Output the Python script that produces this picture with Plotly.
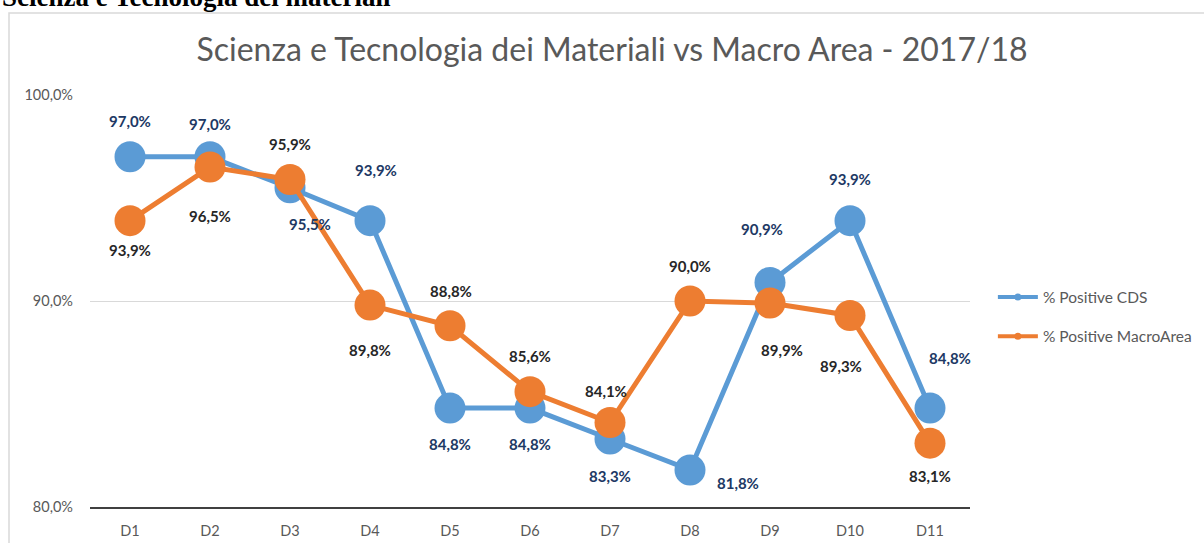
import plotly.graph_objects as go

# Category labels and series values (%)
categories = ["D1", "D2", "D3", "D4", "D5", "D6", "D7", "D8", "D9", "D10", "D11"]
cds_values = [97.0, 97.0, 95.5, 93.9, 84.8, 84.8, 83.3, 81.8, 90.9, 93.9, 84.8]
macro_values = [93.9, 96.5, 95.9, 89.8, 88.8, 85.6, 84.1, 90.0, 89.9, 89.3, 83.1]
series_names = ["% Positive CDS", "% Positive MacroArea"]
y_ticks = [80, 90, 100]

# Label placement (pixel offsets from each point)
cds_label_dy = [36, 33, -36, 51, -36, -36, -37, -13, 53, 42, 50]
cds_label_dx = [0, 0, 20, 6, 0, 0, 0, 48, -8, 0, 20]
macro_label_dy = [-29, -49, 35, -45, 35, 36, 32, 35, -47, -51, -33]
macro_label_dx = [0, 0, 0, 0, 1, 0, -4, 0, 12, -9, 0]

BLUE = "#5B9BD5"
ORANGE = "#ED7D31"
FONT = "Lato"


def pct(v):
    return f"{v:.1f}".replace(".", ",") + "%"


fig = go.Figure()

for name, vals, color in [(series_names[0], cds_values, BLUE),
                          (series_names[1], macro_values, ORANGE)]:
    fig.add_trace(go.Scatter(
        x=categories, y=vals, mode="lines+markers", name=name,
        line=dict(color=color, width=5),
        marker=dict(color=color, size=31),
        showlegend=False, hoverinfo="skip",
    ))

# Legend entries with small markers
for i, (name, color) in enumerate([(series_names[0], BLUE), (series_names[1], ORANGE)]):
    fig.add_trace(go.Scatter(
        x=[None], y=[None], mode="lines+markers", name=name,
        line=dict(color=color, width=4),
        marker=dict(color=color, size=7),
        legendgroup=f"g{i}", showlegend=True,
    ))

annotations = []
for cat, v, dy, dx in zip(categories, cds_values, cds_label_dy, cds_label_dx):
    annotations.append(dict(
        x=cat, y=v, xref="x", yref="y", text=f"<b>{pct(v)}</b>", showarrow=False,
        yshift=dy, xshift=dx, font=dict(family=FONT, size=15, color="#203864"),
    ))
for cat, v, dy, dx in zip(categories, macro_values, macro_label_dy, macro_label_dx):
    annotations.append(dict(
        x=cat, y=v, xref="x", yref="y", text=f"<b>{pct(v)}</b>", showarrow=False,
        yshift=dy, xshift=dx, font=dict(family=FONT, size=15, color="#262626"),
    ))

# Document heading above the chart frame
annotations.append(dict(
    x=-0.1023, y=(507 - 14) / 412, xref="paper", yref="paper", xanchor="left", yanchor="bottom",
    text="<b>Scienza e Tecnologia dei materiali</b>", showarrow=False,
    font=dict(family="Liberation Serif", size=27, color="#000000"),
))

fig.update_layout(
    width=1204, height=543,
    margin=dict(l=90, r=234, t=95, b=36, autoexpand=False),
    paper_bgcolor="white", plot_bgcolor="white",
    separators=",.",
    title=dict(
        text="Scienza e Tecnologia dei Materiali vs Macro Area - 2017/18",
        x=(612) / 1204, xanchor="center", y=1 - 50 / 543, yanchor="middle",
        font=dict(family=FONT, size=32, color="#595959"),
    ),
    xaxis=dict(
        type="category", range=[-0.5, 10.5], showgrid=False, automargin=False,
        showline=True, linecolor="#404040", linewidth=2,
        tickfont=dict(family=FONT, size=14.5, color="#595959"),
        ticks="", ticklabelstandoff=10,
    ),
    yaxis=dict(
        range=[80, 100], tickvals=y_ticks, ticktext=[pct(t) for t in y_ticks],
        showgrid=True, gridcolor="#D9D9D9", gridwidth=1, automargin=False,
        zeroline=False, showline=False,
        tickfont=dict(family=FONT, size=14.5, color="#595959"),
        ticks="", ticklabelstandoff=16,
    ),
    legend=dict(
        x=1.026, y=0.55, xanchor="left", yanchor="top",
        font=dict(family=FONT, size=15.5, color="#595959"),
        tracegroupgap=16, traceorder="grouped", itemwidth=40,
        bgcolor="rgba(0,0,0,0)",
    ),
    annotations=annotations,
    shapes=[dict(
        type="rect", xref="paper", yref="paper",
        x0=(9 - 90) / 880, x1=(1300 - 90) / 880,
        y0=(507 - 600) / 412, y1=(507 - 13) / 412,
        line=dict(color="#D9D9D9", width=1.5), fillcolor="rgba(0,0,0,0)", layer="below",
    )],
)

fig.write_html("out.html")
